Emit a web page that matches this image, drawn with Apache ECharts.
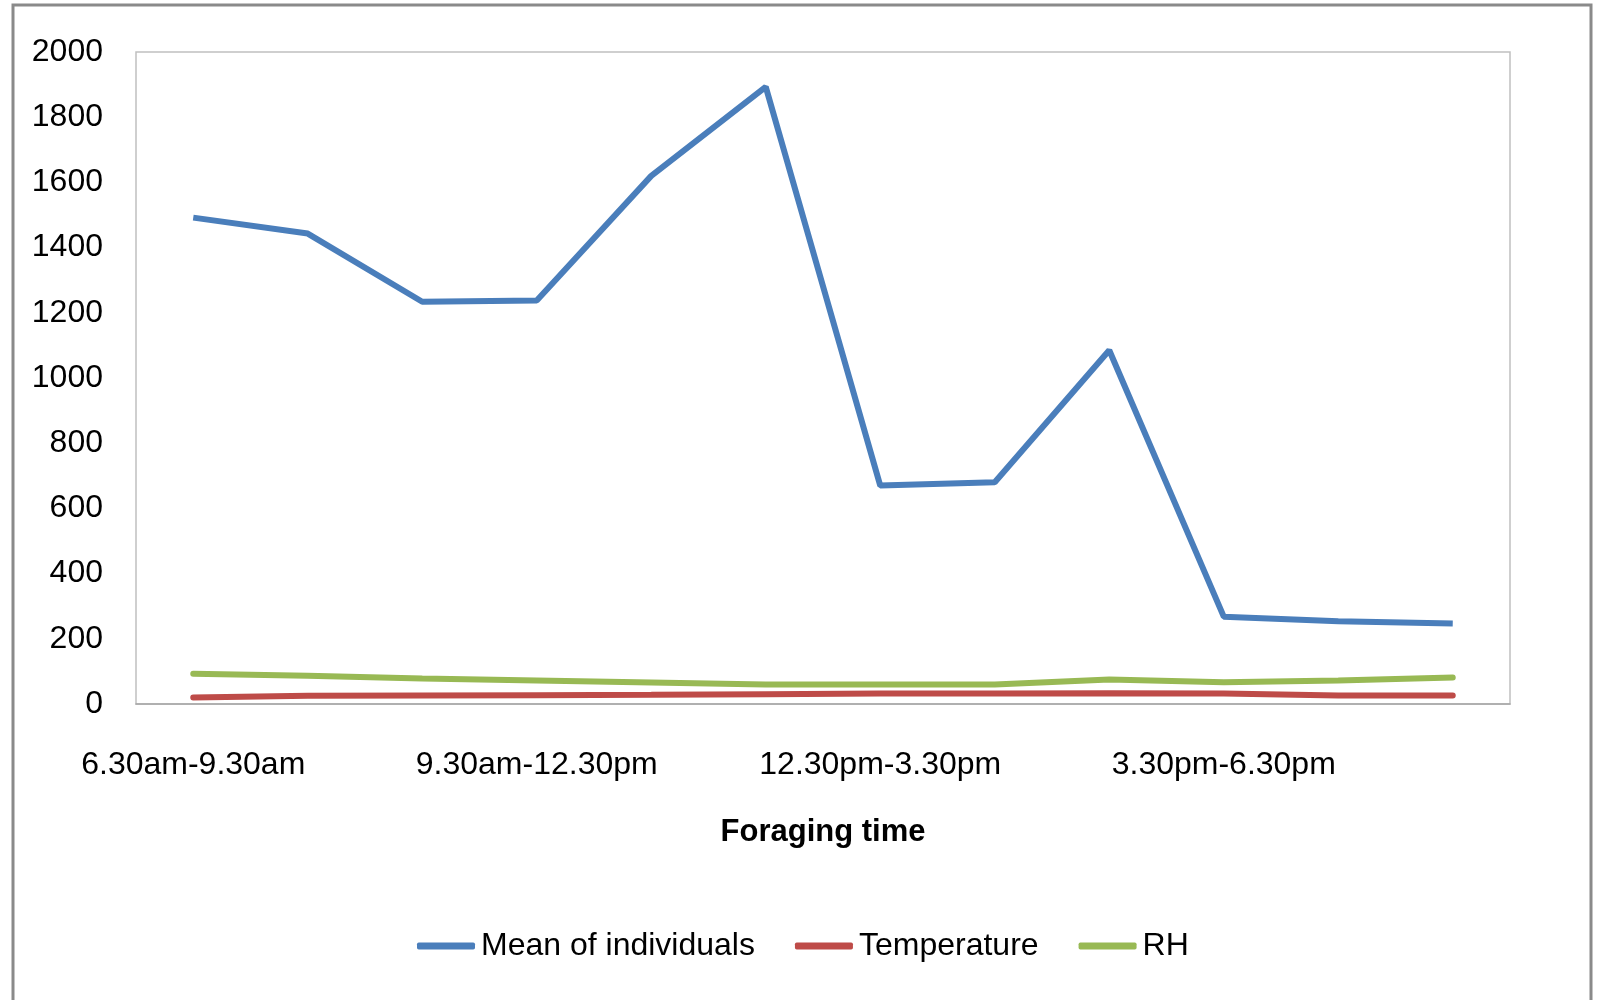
<!DOCTYPE html>
<html>
<head>
<meta charset="utf-8">
<script src="https://cdn.jsdelivr.net/npm/echarts@6/dist/echarts.min.js"></script>
<style>
html,body{margin:0;padding:0;background:#fff;}
#chart{width:1600px;height:1000px;}
</style>
</head>
<body>
<div id="chart"></div>
<script>
// sub-periods (12), labelled every third one by its time slot
const categories = ['P1','P2','P3','P4','P5','P6','P7','P8','P9','P10','P11','P12'];
const tickLabels = ['6.30am-9.30am','','','9.30am-12.30pm','','','12.30pm-3.30pm','','','3.30pm-6.30pm','',''];
const meanIndividuals = [1492, 1443, 1234, 1238, 1620, 1893, 670, 680, 1085, 268, 254, 247];
const temperature = [20, 25, 26, 27, 28, 30, 32, 32, 33, 32, 26, 26];
const rh = [93, 87, 78, 72, 66, 60, 60, 60, 75, 67, 72, 81];
const yTicks = [0, 200, 400, 600, 800, 1000, 1200, 1400, 1600, 1800, 2000];

const FONT = '"Liberation Sans", Arial, sans-serif';
const chart = echarts.init(document.getElementById('chart'));
chart.setOption({
  animation: false,
  backgroundColor: '#fff',
  graphic: [{
    type: 'rect', silent: true,
    shape: {x: 13, y: 5, width: 1578, height: 1010},
    style: {fill: 'none', stroke: '#8a8a8a', lineWidth: 3}
  }],
  grid: {left: 136, right: 90, top: 52, bottom: 296, show: true, borderColor: '#c0c0c0', borderWidth: 1.5},
  xAxis: {
    type: 'category', data: categories, boundaryGap: true,
    axisLine: {show: true, lineStyle: {color: '#a6a6a6', width: 1.5}},
    axisTick: {show: false},
    axisLabel: {interval: 0, margin: 45, color: '#000', fontFamily: FONT, fontSize: 32,
      formatter: (v, i) => tickLabels[i]},
    name: 'Foraging time', nameLocation: 'middle', nameGap: 113,
    nameTextStyle: {color: '#000', fontFamily: FONT, fontSize: 31, fontWeight: 'bold'}
  },
  yAxis: {
    type: 'value', min: yTicks[0], max: yTicks[yTicks.length - 1], interval: 200,
    axisLine: {show: false}, axisTick: {show: false}, splitLine: {show: false},
    axisLabel: {margin: 33, color: '#000', fontFamily: FONT, fontSize: 32,
      formatter: v => String(v)}
  },
  legend: {
    left: 412, top: 925, itemGap: 40, itemWidth: 58, itemHeight: 7,
    icon: 'roundRect',
    textStyle: {color: '#000', fontFamily: FONT, fontSize: 32, padding: [0, 0, 0, 1]},
    data: ['Mean of individuals', 'Temperature', 'RH']
  },
  series: [
    {name: 'Mean of individuals', type: 'line', data: meanIndividuals, symbol: 'none',
     lineStyle: {color: '#4A7EBB', width: 6}, itemStyle: {color: '#4A7EBB'}},
    {name: 'Temperature', type: 'line', data: temperature, symbol: 'none',
     lineStyle: {color: '#BE4B48', width: 6, cap: 'round'}, itemStyle: {color: '#BE4B48'}},
    {name: 'RH', type: 'line', data: rh, symbol: 'none',
     lineStyle: {color: '#98B954', width: 6, cap: 'round'}, itemStyle: {color: '#98B954'}}
  ]
});
</script>
</body>
</html>
